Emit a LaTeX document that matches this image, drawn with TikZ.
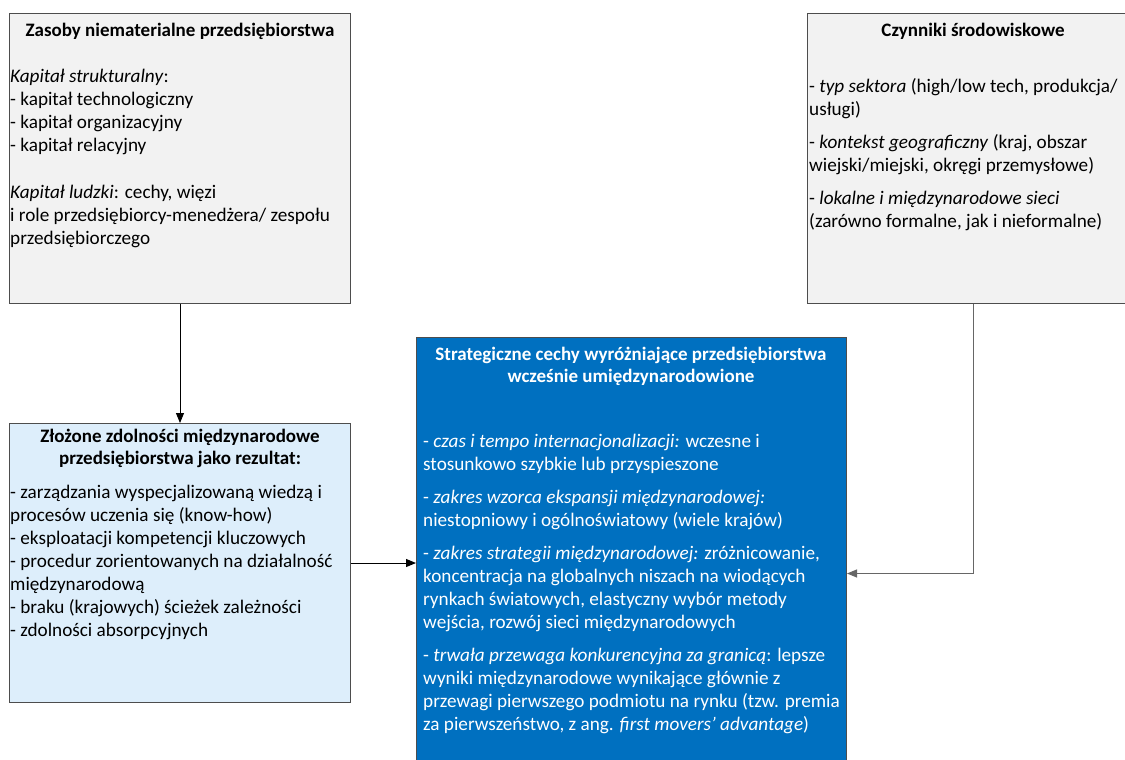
\documentclass[tikz,border=0pt]{standalone}
\usepackage{fontspec}
\setmainfont{Carlito}
\usetikzlibrary{arrows.meta}
\definecolor{boxgray}{HTML}{F2F2F2}
\definecolor{edgegray}{HTML}{4D4D4D}
\definecolor{paleblue}{HTML}{DDEEFB}
\definecolor{strongblue}{HTML}{0070C0}
\definecolor{linkgray}{HTML}{666666}
\begin{document}
\begin{tikzpicture}[x=1pt,y=-1pt,
  panel/.style={draw=edgegray,line width=1pt,inner sep=0,anchor=north west},
  bodytext/.style={align=left,inner sep=0,anchor=north west,
    font=\fontsize{19.2}{23}\selectfont},
  headtext/.style={align=center,inner sep=0,anchor=north,
    font=\fontsize{19}{22}\selectfont\bfseries},
  link/.style={line width=1pt,-{Triangle[length=10pt,width=8pt]}}
]
\useasboundingbox (0,0) rectangle (1125,760);

% panels
\node[panel,fill=boxgray,minimum width=341pt,minimum height=290pt] (A) at (9,13) {};
\node[panel,fill=boxgray,minimum width=332pt,minimum height=290pt] (B) at (807,13) {};
\node[panel,fill=paleblue,minimum width=341pt,minimum height=279pt] (C) at (9,423) {};
\node[panel,fill=strongblue,minimum width=430pt,minimum height=472pt] (D) at (416,337) {};

% intangible resources
\node[headtext] (Ahead) at (180,21) {\strut Zasoby niematerialne przedsiębiorstwa};
\node[bodytext] (Abody) at (10,66.5) {\strut\textit{Kapitał strukturalny}:\\
- kapitał technologiczny\\
- kapitał organizacyjny\\
- kapitał relacyjny\\[24pt]
\textit{Kapitał ludzki}: cechy, więzi\\
i role przedsiębiorcy-menedżera/ zespołu\\
przedsiębiorczego};

% environmental factors
\node[headtext] (Bhead) at (973,21) {\strut Czynniki środowiskowe};
\node[bodytext] (Bbody) at (809,76.5) {\strut- \textit{typ sektora} (high/low tech, produkcja/\\
usługi)\\[10pt]
- \textit{kontekst geograficzny} (kraj, obszar\\
wiejski/miejski, okręgi przemysłowe)\\[10pt]
- \textit{lokalne i międzynarodowe sieci}\\
(zarówno formalne, jak i nieformalne)};

% complex international capabilities
\node[headtext] (Chead) at (180,427) {\strut Złożone zdolności międzynarodowe\\
przedsiębiorstwa jako rezultat:};
\node[bodytext] (Cbody) at (10,482.5) {\strut- zarządzania wyspecjalizowaną wiedzą i\\
procesów uczenia się (know-how)\\
- eksploatacji kompetencji kluczowych\\
- procedur zorientowanych na działalność\\
międzynarodową\\
- braku (krajowych) ścieżek zależności\\
- zdolności absorpcyjnych};

% strategic features
\node[headtext,text=white] (Dhead) at (631,345) {\strut Strategiczne cechy wyróżniające przedsiębiorstwa\\
wcześnie umiędzynarodowione};
\node[bodytext,text=white] (Dbody) at (423,431) {\strut- {\itshape czas i tempo internacjonalizacji:} wczesne i\\
stosunkowo szybkie lub przyspieszone\\[10pt]
- {\itshape zakres wzorca ekspansji międzynarodowej:}\\
niestopniowy i ogólnoświatowy (wiele krajów)\\[10pt]
- {\itshape zakres strategii międzynarodowej:} zróżnicowanie,\\
koncentracja na globalnych niszach na wiodących\\
rynkach światowych, elastyczny wybór metody\\
wejścia, rozwój sieci międzynarodowych\\[10pt]
- {\itshape trwała przewaga konkurencyjna za granicą}: lepsze\\
wyniki międzynarodowe wynikające głównie z\\
przewagi pierwszego podmiotu na rynku (tzw. premia\\
za pierwszeństwo, z ang. \textit{first movers’ advantage})};

% connectors
\draw[link,draw=black] (A.south) -- (C.north);
\draw[link,draw=black] (C.east) -- (D.west |- C.east);
\draw[link,draw=linkgray] (B.south) |- (D.east);
\end{tikzpicture}
\end{document}
